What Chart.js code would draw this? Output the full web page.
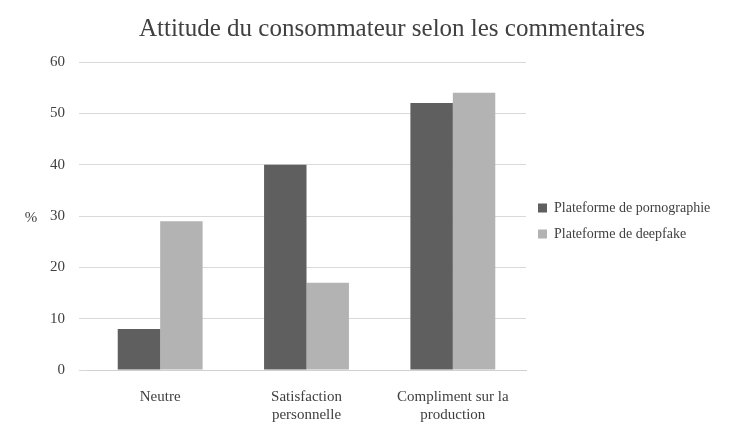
<!DOCTYPE html>
<html>
<head>
<meta charset="utf-8">
<script src="https://cdn.jsdelivr.net/npm/chart.js@4"></script>
<style>
body { margin: 0; background: #fff; }
#wrap { width: 754px; height: 440px; }
</style>
</head>
<body>
<div id="wrap"><canvas id="graph"></canvas></div>
<script>
const categories = ['Neutre', ['Satisfaction', 'personnelle'], ['Compliment sur la', 'production']];
const pornValues = [8, 40, 52];
const deepfakeValues = [29, 17, 54];
const yTicks = [0, 10, 20, 30, 40, 50, 60];

const serif = "'Liberation Serif', 'Times New Roman', serif";

// draws the horizontal "%" axis label
const percentLabel = {
    id: 'percentLabel',
    afterDraw(chart) {
        const ctx = chart.ctx;
        const y = chart.scales.y;
        ctx.save();
        ctx.font = '15px ' + serif;
        ctx.fillStyle = '#404040';
        ctx.textAlign = 'center';
        ctx.textBaseline = 'middle';
        ctx.fillText('%', 31, (y.top + y.bottom) / 2 + 2);
        ctx.restore();
    }
};

document.addEventListener('DOMContentLoaded', function () {
    const ctx = document.getElementById('graph').getContext('2d');
    new Chart(ctx, {
        type: 'bar',
        data: {
            labels: categories,
            datasets: [{
                label: 'Plateforme de pornographie',
                data: pornValues,
                backgroundColor: '#5f5f5f'
            }, {
                label: 'Plateforme de deepfake',
                data: deepfakeValues,
                backgroundColor: '#b3b3b3'
            }]
        },
        options: {
            responsive: true,
            maintainAspectRatio: false,
            animation: false,
            layout: { padding: { left: 36, right: 6, top: 8, bottom: 6 } },
            datasets: { bar: { categoryPercentage: 0.58, barPercentage: 1 } },
            plugins: {
                title: {
                    display: true,
                    text: 'Attitude du consommateur selon les commentaires',
                    color: '#404040',
                    font: { family: serif, size: 25, weight: 'normal' },
                    padding: { top: 6, bottom: 18 }
                },
                legend: {
                    position: 'right',
                    afterFit: null,
                    labels: {
                        boxWidth: 9,
                        boxHeight: 9,
                        color: '#404040',
                        padding: 12,
                        font: { family: serif, size: 14 }
                    }
                },
                tooltip: { enabled: false }
            },
            scales: {
                x: {
                    grid: { display: false },
                    border: { color: '#d0d0d0' },
                    ticks: { color: '#404040', padding: 10, font: { family: serif, size: 15 }, maxRotation: 0 }
                },
                y: {
                    min: 0,
                    max: 60,
                    afterBuildTicks: axis => { axis.ticks = yTicks.map(v => ({ value: v })); },
                    grid: { color: '#d9d9d9' },
                    border: { display: false },
                    ticks: { color: '#404040', padding: 14, font: { family: serif, size: 15 } }
                }
            }
        },
        plugins: [percentLabel, {
            id: 'legendWidth',
            beforeInit(chart) {
                const orig = chart.legend.fit;
                chart.legend.fit = function () {
                    orig.call(this);
                    this.width = 222;
                };
            }
        }]
    });
});
</script>
</body>
</html>
